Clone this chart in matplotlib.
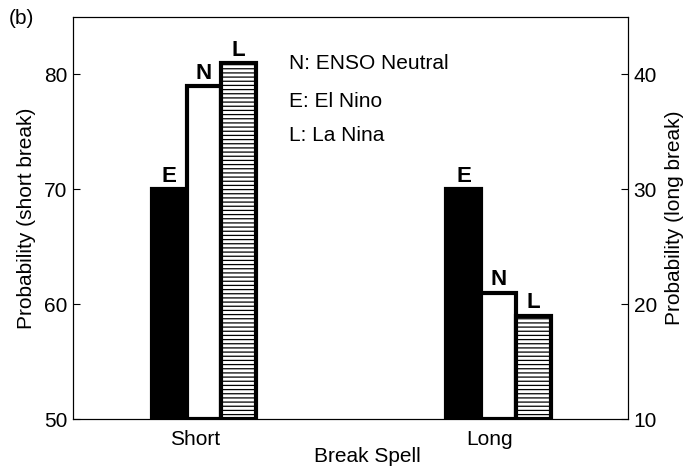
import matplotlib
matplotlib.use("Agg")
import matplotlib.pyplot as plt
import numpy as np

plt.rcParams['font.family'] = ['Liberation Sans', 'DejaVu Sans']
plt.rcParams['hatch.linewidth'] = 0.9

groups = ["Short", "Long"]
phases = ["E", "N", "L"]
short_vals = [70, 79, 81]   # left axis
long_vals = [30, 21, 19]    # right axis
faces = ["black", "white", "white"]
hatches = [None, None, "----"]

fs = 15

fig = plt.figure(figsize=(6.89, 4.69), dpi=100)
ax1 = fig.add_axes([0.106, 0.1066, 0.8055, 0.8572])
ax2 = ax1.twinx()

w = 0.118
offs = np.array([-1, 0, 1]) * w
xpos = [1.0, 2.0]

for i, p in enumerate(phases):
    ax1.bar(xpos[0] + offs[i], short_vals[i] - 50, w, bottom=50,
            color=faces[i], edgecolor="black", linewidth=3, hatch=hatches[i])
    ax1.text(xpos[0] + offs[i], short_vals[i] + 0.2, p, ha="center", va="bottom",
             fontsize=16, fontweight="bold")
    ax2.bar(xpos[1] + offs[i], long_vals[i] - 10, w, bottom=10,
            color=faces[i], edgecolor="black", linewidth=3, hatch=hatches[i])
    ax2.text(xpos[1] + offs[i], long_vals[i] + 0.2, p, ha="center", va="bottom",
             fontsize=16, fontweight="bold")

ax1.set_xlim(0.555, 2.44)
ax1.set_ylim(50, 85)
ax2.set_ylim(10, 45)
ax1.set_yticks([50, 60, 70, 80])
ax2.set_yticks([10, 20, 30, 40])
ax1.set_xticks([0.97, 1.97])
ax1.set_xticklabels(groups)
ax1.tick_params(axis="x", length=0, labelsize=fs, pad=8)
ax1.tick_params(axis="y", direction="in", length=5, labelsize=fs, pad=4)
ax2.tick_params(axis="y", direction="in", length=5, labelsize=fs, pad=4)
ax1.set_ylabel("Probability (short break)", fontsize=fs, labelpad=6)
ax2.set_ylabel("Probability (long break)", fontsize=fs, labelpad=6)
ax1.set_xlabel("Break Spell", fontsize=fs)
ax1.xaxis.set_label_coords(0.53, -0.07)

for ax in (ax1, ax2):
    for s in ax.spines.values():
        s.set_linewidth(0.8)

ax1.text(0.39, 0.885, "N: ENSO Neutral", transform=ax1.transAxes, fontsize=fs, va="center")
ax1.text(0.39, 0.790, "E: El Nino", transform=ax1.transAxes, fontsize=fs, va="center")
ax1.text(0.39, 0.705, "L: La Nina", transform=ax1.transAxes, fontsize=fs, va="center")
fig.text(0.012, 0.96, "(b)", fontsize=fs, va="center")

fig.savefig("out.png", dpi=100)
